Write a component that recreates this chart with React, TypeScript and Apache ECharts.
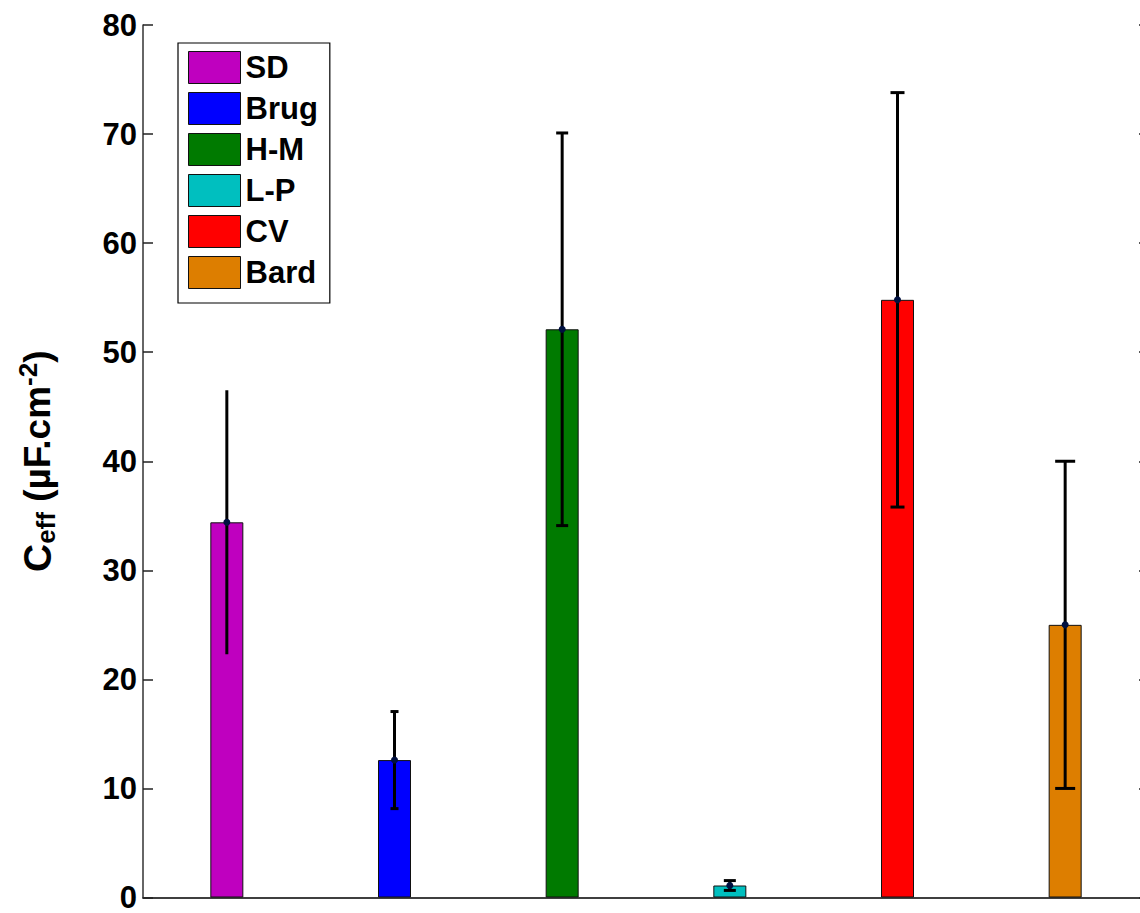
import React, { useEffect, useRef } from "react";
import * as echarts from "echarts";

const categories = ["SD", "Brug", "H-M", "L-P", "CV", "Bard"];
const means = [34.4, 12.6, 52.1, 1.1, 54.8, 25.0];
const errors = [12.1, 4.45, 18.0, 0.45, 19.0, 15.0];
const yTicks = [0, 10, 20, 30, 40, 50, 60, 70, 80];

const colors = ["#BF00BF", "#0000FF", "#007A00", "#00BFBF", "#FF0000", "#DD7E00"];
const capWidths = [0, 8, 12, 12, 14, 20];

const FONT = "'Liberation Sans', Arial, sans-serif";

export default function App() {
  const ref = useRef<HTMLDivElement>(null);
  useEffect(() => {
    if (!ref.current) return;
    const chart = echarts.init(ref.current, null, { renderer: "svg" });

    const barSeries = categories.map((name, i) => ({
      name,
      type: "bar",
      xAxisIndex: 0,
      yAxisIndex: 0,
      barWidth: 33,
      barGap: "-100%",
      itemStyle: { color: colors[i], borderColor: "#111", borderWidth: 1 },
      data: categories.map((_, j) => (j === i ? means[i] : "-")),
      z: 2,
    }));

    const errData = categories.map((_, i) => [i, means[i] - errors[i], means[i] + errors[i], means[i]]);

    const nameBase = { fontWeight: "bold", color: "#000", fontFamily: FONT };

    const option: any = {
      animation: false,
      backgroundColor: "#fff",
      textStyle: { fontFamily: FONT },
      grid: { left: 143, top: 25, right: 0, bottom: 10, containLabel: false },
      legend: {
        orient: "vertical",
        left: 178,
        top: 43,
        data: categories,
        itemWidth: 52,
        itemHeight: 32,
        itemGap: 8,
        padding: [8, 12, 14, 10],
        borderColor: "#000",
        borderWidth: 1.2,
        backgroundColor: "#fff",
        textStyle: { fontSize: 31, fontWeight: "bold", color: "#000", fontFamily: FONT },
        itemStyle: { borderColor: "#111", borderWidth: 1 },
        icon: "rect",
        selectedMode: false,
      },
      xAxis: [
        {
          type: "category",
          data: categories,
          position: "bottom",
          axisLine: { lineStyle: { color: "#333", width: 1.5 } },
          axisTick: { inside: true, length: 10, lineStyle: { color: "#222", width: 1.5 } },
          axisLabel: { show: false },
          splitLine: { show: false },
        },
        {
          type: "category",
          data: categories,
          position: "top",
          axisLine: { lineStyle: { color: "#333", width: 1.5 } },
          axisTick: { inside: true, length: 10, lineStyle: { color: "#222", width: 1.5 } },
          axisLabel: { show: false },
          splitLine: { show: false },
        },
      ],
      yAxis: [
        {
          type: "value",
          min: yTicks[0],
          max: yTicks[yTicks.length - 1],
          interval: 10,
          position: "left",
          name: "{c|C}{sub|eff}{t| (\u00B5F.cm}{sup|-2}{t|)}",
          nameLocation: "middle",
          nameRotate: 90,
          nameGap: 84,
          nameTextStyle: {
            fontFamily: FONT,
            rich: {
              c: { ...nameBase, fontSize: 39, lineHeight: 44, verticalAlign: "middle" },
              t: { ...nameBase, fontSize: 37, lineHeight: 44, verticalAlign: "middle" },
              sub: { ...nameBase, fontSize: 26, lineHeight: 26, verticalAlign: "bottom" },
              sup: { ...nameBase, fontSize: 26, lineHeight: 26, verticalAlign: "top" },
            },
          },
          axisLine: { show: true, lineStyle: { color: "#333", width: 1.5 } },
          axisTick: { show: true, inside: true, length: 10, lineStyle: { color: "#222", width: 1.5 } },
          axisLabel: { fontSize: 31, fontWeight: "bold", color: "#000", margin: 6, fontFamily: FONT },
          splitLine: { show: false },
        },
        {
          type: "value",
          min: yTicks[0],
          max: yTicks[yTicks.length - 1],
          interval: 10,
          position: "right",
          axisLine: { show: true, lineStyle: { color: "#333", width: 1.5 } },
          axisTick: { show: true, inside: true, length: 10, lineStyle: { color: "#222", width: 1.5 } },
          axisLabel: { show: false },
          splitLine: { show: false },
        },
      ],
      series: [
        ...barSeries,
        {
          type: "custom",
          name: "err",
          xAxisIndex: 0,
          yAxisIndex: 0,
          z: 5,
          encode: { x: 0, y: [1, 2] },
          data: errData,
          renderItem: (params: any, api: any) => {
            const i = api.value(0);
            const lo = api.coord([i, api.value(1)]);
            const hi = api.coord([i, api.value(2)]);
            const mid = api.coord([i, api.value(3)]);
            const hw = capWidths[i] / 2;
            const style = { stroke: "#000", lineWidth: 3 };
            const children: any[] = [
              { type: "line", shape: { x1: hi[0], y1: hi[1], x2: lo[0], y2: lo[1] }, style },
            ];
            if (hw > 0) {
              children.push({ type: "line", shape: { x1: hi[0] - hw, y1: hi[1], x2: hi[0] + hw, y2: hi[1] }, style });
              children.push({ type: "line", shape: { x1: lo[0] - hw, y1: lo[1], x2: lo[0] + hw, y2: lo[1] }, style });
            }
            children.push({ type: "circle", shape: { cx: mid[0], cy: mid[1], r: 3.5 }, style: { fill: "#001040" } });
            return { type: "group", children };
          },
        },
      ],
    };

    chart.setOption(option);
    return () => chart.dispose();
  }, []);

  return (
    <div style={{ position: "absolute", left: 0, top: 0, width: 1140, height: 913, overflow: "hidden", background: "#fff" }}>
      <div ref={ref} style={{ width: 1149, height: 913, background: "#fff" }} />
    </div>
  );
}
